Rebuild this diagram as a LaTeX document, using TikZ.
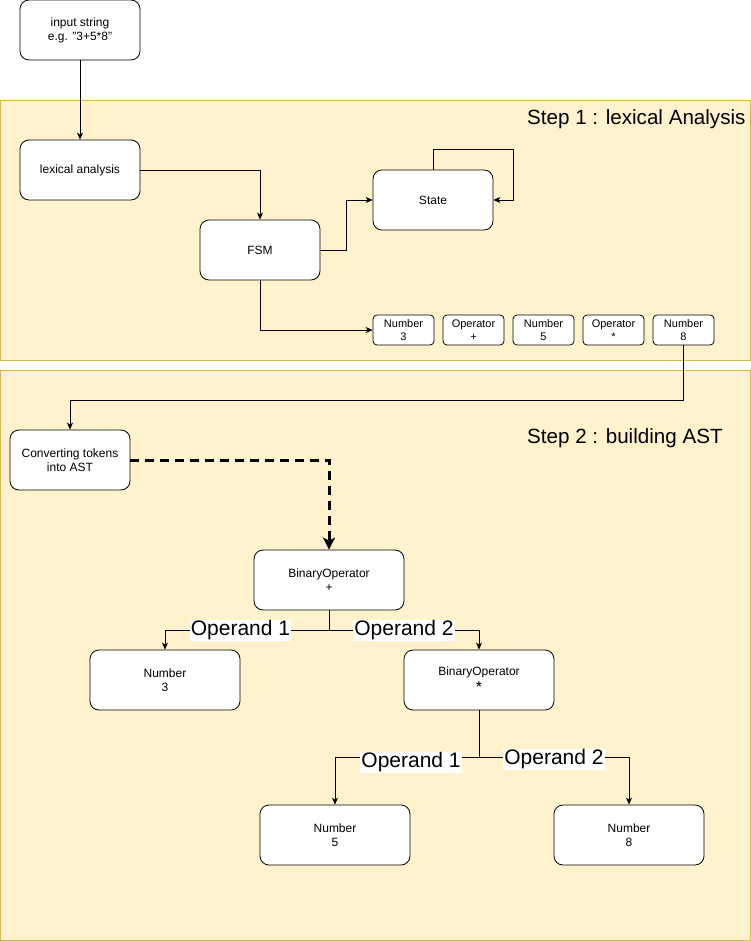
\documentclass[tikz,border=0pt]{standalone}
\usepackage{fontspec}
\setmainfont{Liberation Sans}
\usetikzlibrary{arrows.meta,positioning}
\definecolor{panelfill}{HTML}{FFF2CC}
\definecolor{paneldraw}{HTML}{D6B656}

\begin{document}
\begin{tikzpicture}[x=1pt,y=-1pt,
  box/.style={draw, fill=white, line width=0.8pt, rounded corners=9pt,
    minimum width=120pt, minimum height=60pt, align=center,
    font=\fontsize{12}{14}\selectfont},
  widebox/.style={box, minimum width=150pt},
  token/.style={draw, fill=white, line width=0.8pt, rounded corners=4pt,
    minimum width=61pt, minimum height=30pt, inner sep=1pt, align=center,
    font=\fontsize{11}{13}\selectfont},
  panel/.style={draw=paneldraw, fill=panelfill, line width=0.8pt},
  title/.style={anchor=west, inner sep=0pt, font=\fontsize{20.6}{24}\selectfont},
  lbl/.style={fill=white, inner sep=1pt, font=\fontsize{21}{24}\selectfont},
  arr/.style={line width=0.8pt, -{Stealth[length=7pt,width=6pt,inset=2pt]}},
  dasharr/.style={line width=3pt, dash pattern=on 9pt off 6pt,
    -{Stealth[length=12pt,width=12pt,inset=3pt]}}]
\useasboundingbox (0,0) rectangle (751,941);

% Panels
\draw[panel] (0.5,100) rectangle (750.5,360);
\draw[panel] (0.5,370) rectangle (750.5,940);
\node[title] (step1) at (527,119) {Step 1 : lexical Analysis};
\node[title] (step2) at (527,438) {Step 2 : building AST};

% Step 1 boxes
\node[box] (input) at (80,30) {input string\\e.g. "3+5*8"};
\node[box] (lexan) at (80,170) {lexical analysis};
\node[box] (fsm) at (260,250) {FSM};
\node[box] (state) at (433,200) {State};
\coordinate (loop) at (513,200);

% Tokens
\node[token] (tok1) at (403.5,330) {Number\\3};
\node[token] (tok2) at (473.5,330) {Operator\\+};
\node[token] (tok3) at (543.5,330) {Number\\5};
\node[token] (tok4) at (613.5,330) {Operator\\*};
\node[token] (tok5) at (683.5,330) {Number\\8};

% Step 2 boxes
\node[box] (conv) at (70,460) {Converting tokens\\into AST};
\node[widebox] (binplus) at (329,580) {BinaryOperator\\+};
\node[widebox] (num3) at (165,680) {Number\\3};
\node[widebox] (binstar) at (479,680) {BinaryOperator\\\raisebox{-3pt}{\fontsize{16}{14}\selectfont *}};
\node[widebox] (num5) at (335,835) {Number\\5};
\node[widebox] (num8) at (629,835) {Number\\8};

% Step 1 connectors
\draw[arr] (input) -- (lexan);
\draw[arr] (lexan) -| (fsm);
\draw[arr] (fsm.east) -- ++(26,0) |- (state.west);
\draw[arr] (state.north) -- ++(0,-20) -| (loop) -- (state.east);
\draw[arr] (fsm.south) |- (tok1.west);
\draw[arr] (tok5.south) -- ++(0,55) -| (conv.north);

% Step 2 connectors
\draw[dasharr] (conv.east) -| (binplus.north);
\draw[arr] (binplus.south) -- ++(0,20) -| node[lbl, pos=0.27] {Operand 1} (num3.north);
\draw[arr] (binplus.south) -- ++(0,20) -| node[lbl, pos=0.25] {Operand 2} (binstar.north);
\draw[arr] (binstar.south) -- ++(0,47) -| node[lbl, pos=0.236, yshift=-5pt] {Operand 1} (num5.north);
\draw[arr] (binstar.south) -- ++(0,47) -| node[lbl, pos=0.25, yshift=-2pt] {Operand 2} (num8.north);
\end{tikzpicture}
\end{document}
